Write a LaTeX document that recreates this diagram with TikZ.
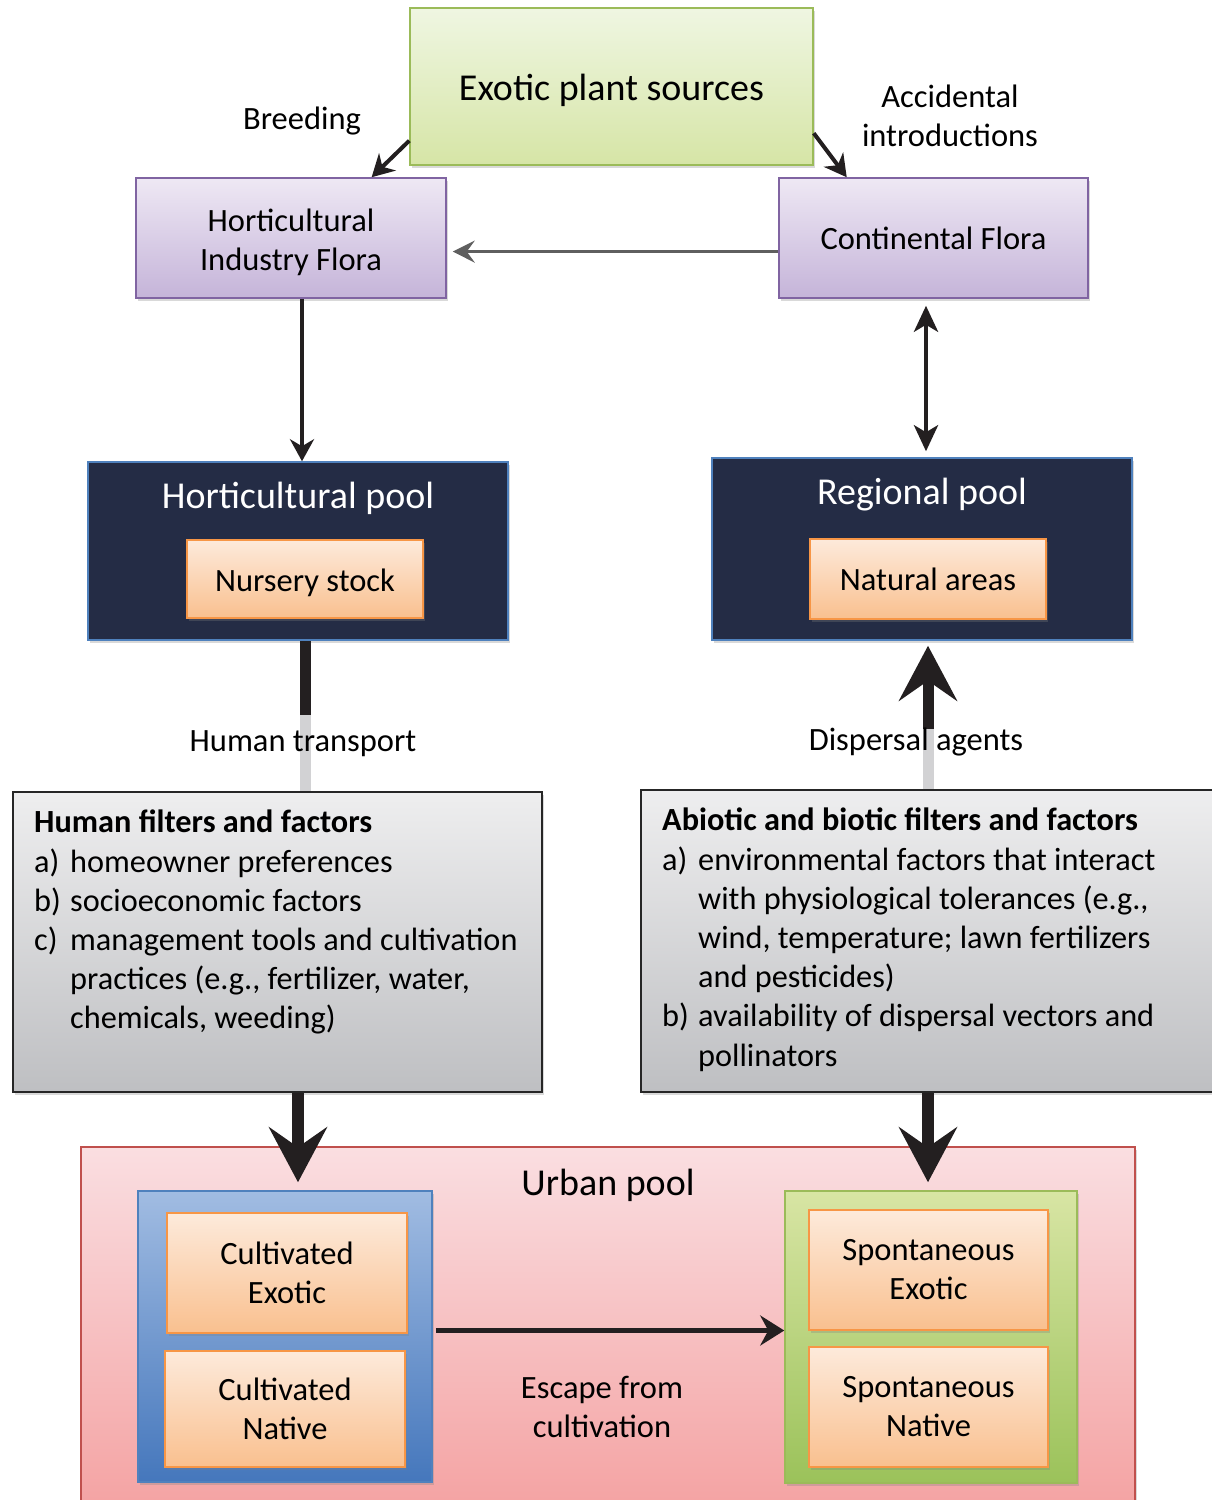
\documentclass[tikz,border=0pt]{standalone}
\usepackage{fontspec}
\setmainfont{Carlito}
\usetikzlibrary{arrows.meta,shadows,calc}

\definecolor{srcgreenA}{HTML}{EFF6E2}
\definecolor{srcgreenB}{HTML}{D6E5A6}
\definecolor{grnborder}{HTML}{9BBB59}
\definecolor{purpA}{HTML}{EEE8F4}
\definecolor{purpB}{HTML}{C5B4D9}
\definecolor{purpborder}{HTML}{8064A2}
\definecolor{navy}{HTML}{242C45}
\definecolor{bluborder}{HTML}{4F81BD}
\definecolor{orgA}{HTML}{FDEADB}
\definecolor{orgB}{HTML}{F9C08F}
\definecolor{orgborder}{HTML}{F79646}
\definecolor{greyA}{HTML}{EEEEEF}
\definecolor{greyB}{HTML}{BEBFC2}
\definecolor{pinkA}{HTML}{FADEE1}
\definecolor{pinkB}{HTML}{F4A2A2}
\definecolor{pinkborder}{HTML}{C0504D}
\definecolor{bluA}{HTML}{A1BCE2}
\definecolor{bluB}{HTML}{4577BC}
\definecolor{grpgreenA}{HTML}{D8E5A4}
\definecolor{grpgreenB}{HTML}{9BC25A}
\definecolor{arrowblk}{HTML}{231F20}
\definecolor{arrowgrey}{HTML}{5F5F5F}
\definecolor{fadegrey}{HTML}{D2D2D4}

\newcommand\itm[1]{\makebox[36pt][l]{#1}}
\newcommand\dn[1]{\raisebox{-4pt}[\height][\depth]{#1}}

\begin{document}
\begin{tikzpicture}[x=1pt,y=-1pt,
  every node/.style={font=\fontsize{32.5}{39}\selectfont},
  shad/.style={drop shadow={opacity=0.3,shadow xshift=2pt,shadow yshift=-3pt}},
  flbox/.style={draw,line width=1.5pt,align=center,inner sep=0pt,shad},
  srcbox/.style={flbox,top color=srcgreenA,bottom color=srcgreenB,draw=grnborder,
    font=\fontsize{38}{44}\selectfont},
  florabox/.style={flbox,top color=purpA,bottom color=purpB,draw=purpborder},
  poolbox/.style={flbox,fill=navy,draw=bluborder},
  pooltitle/.style={text=white,font=\fontsize{38}{44}\selectfont},
  orangebox/.style={flbox,top color=orgA,bottom color=orgB,draw=orgborder},
  filterbox/.style={flbox,top color=greyA,bottom color=greyB,draw=black!85,line width=2pt},
  filtertext/.style={align=left,inner sep=0pt,anchor=north west,font=\fontsize{32.3}{39.2}\selectfont},
  urbanbox/.style={flbox,top color=pinkA,bottom color=pinkB,draw=pinkborder},
  cultbox/.style={flbox,top color=bluA,bottom color=bluB,draw=bluborder},
  spontbox/.style={flbox,top color=grpgreenA,bottom color=grpgreenB,draw=grnborder},
  medarrow/.style={draw=arrowblk,line width=4pt,-{Stealth[length=22pt,width=24pt,inset=7pt]}},
  bigarrow/.style={draw=arrowblk,line width=12pt,-{Stealth[length=55pt,width=58pt,inset=20pt]}},
  thickline/.style={line width=11pt}
]
\useasboundingbox (0,0) rectangle (1212,1500);

% top row
\node[srcbox,minimum width=403pt,minimum height=157pt] (src) at (611.5,86.5) {\dn{Exotic plant sources}};
\node[florabox,minimum width=310pt,minimum height=120pt] (hif) at (291,238) {\dn{Horticultural}\\\dn{Industry Flora}};
\node[florabox,minimum width=309pt,minimum height=120pt] (cfl) at (933.5,238) {Continental Flora};
\node (breed) at (302,121) {Breeding};
\node[align=center] (accid) at (950,116) {Accidental\\introductions};

% pools
\node[poolbox,minimum width=420pt,minimum height=178pt] (hpool) at (298,551) {};
\node[pooltitle] (hpooltitle) at (298,498) {Horticultural pool};
\node[poolbox,minimum width=420pt,minimum height=182pt] (rpool) at (922,549) {};
\node[pooltitle] (rpooltitle) at (922,495) {Regional pool};

% filters
\node[filterbox,minimum width=529pt,minimum height=300pt] (hfilt) at (277.5,942) {};
\node[filterbox,minimum width=590pt,minimum height=302pt] (abf) at (936,941) {};
\node[filtertext] (hfilttext) at (34,810) {\textbf{Human filters and factors}\\
  \itm{a)}homeowner preferences\\
  \itm{b)}socioeconomic factors\\
  \itm{c)}management tools and cultivation\\
  \itm{}practices (e.g., fertilizer, water,\\
  \itm{}chemicals, weeding)};
\node[filtertext] (abftext) at (662,808) {\textbf{Abiotic and biotic filters and factors}\\
  \itm{a)}environmental factors that interact\\
  \itm{}with physiological tolerances (e.g.,\\
  \itm{}wind, temperature; lawn fertilizers\\
  \itm{}and pesticides)\\
  \itm{b)}availability of dispersal vectors and\\
  \itm{}pollinators};

% urban pool
\node[urbanbox,minimum width=1054pt,minimum height=365pt] (urban) at (608,1329.5) {};
\node[font=\fontsize{38}{44}\selectfont] (urbantitle) at (608,1185) {Urban pool};
\node[cultbox,minimum width=294pt,minimum height=291pt] (cult) at (285,1336.5) {};
\node[spontbox,minimum width=292pt,minimum height=292pt] (spont) at (931,1337) {};

% orange boxes
\foreach \nm/\x/\y/\w/\h/\txt in {
  nursery/305/579/236/78/{\dn{Nursery stock}},
  natural/928/579/236/80/{Natural areas},
  cexo/287/1273/240/120/{Cultivated\\Exotic},
  cnat/285/1409/240/116/{Cultivated\\Native},
  sexo/928.5/1270/239/120/{Spontaneous\\Exotic},
  snat/928.5/1407/239/120/{Spontaneous\\Native}}{
  \node[orangebox,minimum width=\w pt,minimum height=\h pt] (\nm) at (\x,\y) {\txt};
}

% connectors
\draw[medarrow] (src.195) -- (hif.37);
\draw[medarrow] (src.-13.5) -- (cfl.145);
\draw[draw=arrowgrey,line width=3pt,-{Stealth[length=22pt,width=22pt,inset=8pt]},shorten >=6pt]
  (cfl.185.5) -- (cfl.185.5 -| hif.east);
\coordinate (hifout) at ($(hif.south)+(11,0)$);
\draw[medarrow] (hifout) -- (hifout |- hpool.north);
\coordinate (cflout) at ($(natural.north |- cfl.south)+(-2,0)$);
\draw[draw=arrowblk,line width=4.5pt,{Stealth[length=26pt,width=24pt,inset=7pt]}-{Stealth[length=26pt,width=24pt,inset=7pt]},
  shorten <=7pt,shorten >=6pt] (cflout) -- (cflout |- rpool.north);

\coordinate (htmid) at ($(nursery.south |- hfilt.north)+(0,-76)$);
\draw[thickline,arrowblk] (nursery.south |- hpool.south) -- (htmid);
\draw[thickline,fadegrey] (htmid) -- (nursery.south |- hfilt.north);
\node (htlabel) at (303,744) {Human transport};

\coordinate (damid) at ($(natural.south |- abf.north)+(0,-60)$);
\draw[thickline,fadegrey] (natural.south |- abf.north) -- (damid);
\draw[bigarrow,line width=11pt,shorten >=5pt] (damid) -- (natural.south |- rpool.south);
\node (dalabel) at (916,742) {Dispersal agents};

\draw[bigarrow,shorten >=8pt] (hfilt.south -| hpool.north) -- (hpool.north |- cult.north);
\draw[bigarrow,shorten >=8pt] (abf.south -| natural.south) -- (natural.south |- spont.north);

\coordinate (escstart) at ($(cult.east)+(3,-6)$);
\draw[draw=arrowblk,line width=5pt,-{Stealth[length=24pt,width=30pt,inset=8pt]}] (escstart) -- (escstart -| spont.west);
\node[align=center] (esclabel) at (602,1407) {Escape from\\cultivation};
\end{tikzpicture}
\end{document}
